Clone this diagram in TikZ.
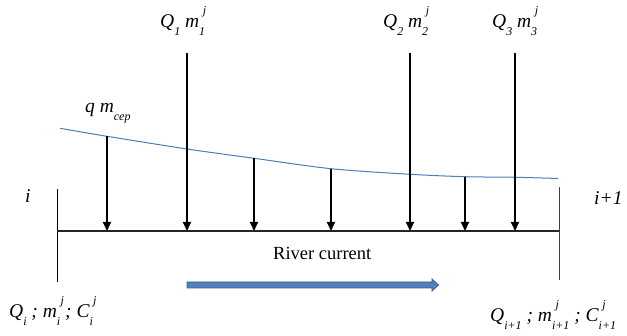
\documentclass[tikz,border=0pt]{standalone}
\usepackage{fontspec}
\setmainfont{Liberation Serif}
\usepackage{xcolor}
\usetikzlibrary{arrows.meta}
\definecolor{curveblue}{HTML}{4A7EBB}
\definecolor{flowfill}{HTML}{4F81BD}
\definecolor{flowedge}{HTML}{385D8A}
\newcommand{\lo}[1]{\raisebox{-0.4em}{\fontsize{12}{12}\selectfont #1}}
\newcommand{\hilo}[2]{\rlap{\raisebox{0.7em}{\fontsize{12}{12}\selectfont\hspace{0.3em}#1}}\lo{#2}}

\begin{document}
\begin{tikzpicture}[x=1pt,y=-1pt,
  every node/.style={font=\fontsize{19.5}{22}\selectfont\itshape,inner sep=0pt},
  feed/.style={line width=1.8pt,-{Triangle[width=8pt,length=9pt]}},
  bank/.style={line width=0.9pt}]
\useasboundingbox (0,0) rectangle (627,336);
% river section
\coordinate (lt) at (57,189);
\coordinate (lb) at (57,282);
\coordinate (rt) at (559,187);
\coordinate (rb) at (559,280);
\coordinate (sl) at (57,231);
\coordinate (sr) at (559,231);
\draw[bank] (lt)--(lb);
\draw[bank,black!75] (rt)--(rb);
\draw[line width=1.2pt,black!85] (sl)--(sr);
% distributed inflow
\draw[curveblue,line width=1pt] plot[smooth,tension=0.5] coordinates
 {(60,128.3) (107,136.3) (187,149) (254,158.3) (331,168.7) (410,174.3) (465,176.7) (516,177.3) (558,178.5)};
\foreach \x/\y [count=\k] in {107/136.3,254/158.3,331/168.7,465/176.7}{
  \coordinate (q\k) at (\x,\y);
  \coordinate (qb\k) at (\x,231);
  \draw[feed] (q\k)--(qb\k);
}
% point sources
\foreach \x [count=\k] in {187,410,515}{
  \coordinate (Q\k) at (\x,53);
  \coordinate (Qb\k) at (\x,231);
  \draw[feed] (Q\k)--(Qb\k);
}
\node[anchor=base west] (lQ1) at (160,28) {Q\lo{1} m\hilo{j}{1}};
\node[anchor=base west] (lQ2) at (383,28) {Q\lo{2} m\hilo{j}{2}};
\node[anchor=base west] (lQ3) at (492,28) {Q\lo{3} m\hilo{j}{3}};
\node[anchor=base west] (lq) at (85,113) {q m\lo{cep}};
\node[anchor=base west] (li) at (25,203) {i};
\node[anchor=base west] (li1) at (594,205) {i+1};
\node[anchor=base west,font=\fontsize{18.5}{22}\selectfont] (rc) at (273,260) {River current};
% current direction
\draw[flowedge,fill=flowfill,line width=0.8pt] (187,282)--(432,282)--(432,279)--(438.5,285)
  --(432,291)--(432,288)--(187,288)--cycle;
\node[anchor=base west] (bl) at (9,318) {Q\lo{i} ; m\hilo{j}{i} ; C\hilo{j}{i}};
\node[anchor=base west] (br) at (490,322) {Q\lo{i+1} ; m\hilo{j}{i+1} ; C\hilo{j}{i+1}};
\end{tikzpicture}
\end{document}
